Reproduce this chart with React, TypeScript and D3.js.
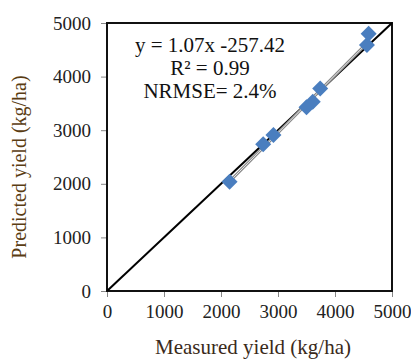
import React, { useEffect, useRef } from 'react';
import * as d3 from 'd3';

const measured = [2150, 2740, 2920, 3500, 3610, 3740, 4560, 4590];
const predicted = [2040, 2740, 2910, 3430, 3530, 3780, 4590, 4800];
const tickValues = [0, 1000, 2000, 3000, 4000, 5000];
const fitSlope = 1.07;
const fitIntercept = -257.42;
const annotation = ['y = 1.07x -257.42', 'R² = 0.99', 'NRMSE= 2.4%'];

export default function App() {
  const svgRef = useRef<SVGSVGElement>(null);

  useEffect(() => {
    if (!svgRef.current) return;
    const root = d3.select(svgRef.current);
    root.selectAll('*').remove();

    const margin = { top: 23, left: 107 };
    const width = 285;
    const height = 268;
    const font = '"Liberation Serif", "Times New Roman", serif';

    const svg = root.append('g').attr('transform', `translate(${margin.left},${margin.top})`);

    const x = d3.scaleLinear().domain([0, 5000]).range([0, width]);
    const y = d3.scaleLinear().domain([0, 5000]).range([height, 0]);

    // Axes
    const xAxis = svg
      .append('g')
      .attr('transform', `translate(0,${height})`)
      .call(d3.axisBottom(x).tickValues(tickValues).tickSize(6).tickPadding(8).tickFormat(d3.format('d')));
    const yAxis = svg
      .append('g')
      .call(d3.axisLeft(y).tickValues(tickValues).tickSize(6).tickPadding(10).tickFormat(d3.format('d')));
    [xAxis, yAxis].forEach((g) => {
      g.select('.domain').remove();
      g.selectAll('line').attr('stroke', '#868686');
      g.selectAll('text').attr('font-family', font).attr('font-size', 19).attr('fill', '#222');
    });

    // Plot frame
    svg
      .append('rect')
      .attr('width', width)
      .attr('height', height)
      .attr('fill', 'none')
      .attr('stroke', '#111')
      .attr('stroke-width', 2);

    // 1:1 line
    svg
      .append('line')
      .attr('x1', x(0))
      .attr('y1', y(0))
      .attr('x2', x(5000))
      .attr('y2', y(5000))
      .attr('stroke', '#000')
      .attr('stroke-width', 2);

    // Trend line
    const xMin = d3.min(measured)!;
    const xMax = d3.max(measured)!;
    const trend = [xMin, xMax].map((v) => [v, fitSlope * v + fitIntercept]);
    const line = d3
      .line<number[]>()
      .x((d) => x(d[0]))
      .y((d) => y(d[1]));
    svg.append('path').attr('d', line(trend)).attr('stroke', '#8a8a8a').attr('stroke-width', 3).attr('fill', 'none');
    svg.append('path').attr('d', line(trend)).attr('stroke', '#e8e8e8').attr('stroke-width', 1).attr('fill', 'none');

    // Points
    const diamond = d3.symbol().type(d3.symbolSquare).size(128);
    svg
      .selectAll('.pt')
      .data(measured.map((m, i) => [m, predicted[i]]))
      .enter()
      .append('path')
      .attr('d', diamond)
      .attr('transform', (d) => `translate(${x(d[0])},${y(d[1])}) rotate(45)`)
      .attr('fill', '#4a7ebf');

    // Annotation
    annotation.forEach((t, i) => {
      svg
        .append('text')
        .attr('x', 103)
        .attr('y', 29 + i * 23)
        .attr('text-anchor', 'middle')
        .attr('font-family', font)
        .attr('font-size', 21)
        .attr('fill', '#111')
        .text(t);
    });

    // Axis titles
    root
      .append('text')
      .attr('x', 253)
      .attr('y', 354)
      .attr('text-anchor', 'middle')
      .attr('font-family', font)
      .attr('font-size', 21)
      .attr('fill', '#3a2a1a')
      .text('Measured yield (kg/ha)');
    root
      .append('text')
      .attr('transform', 'translate(26,167) rotate(-90)')
      .attr('text-anchor', 'middle')
      .attr('font-family', font)
      .attr('font-size', 20)
      .attr('fill', '#5a3c12')
      .text('Predicted yield (kg/ha)');
  }, []);

  return (
    <svg
      ref={svgRef}
      width={411}
      height={361}
      style={{ position: 'absolute', left: 0, top: 0, background: '#fff' }}
    />
  );
}
